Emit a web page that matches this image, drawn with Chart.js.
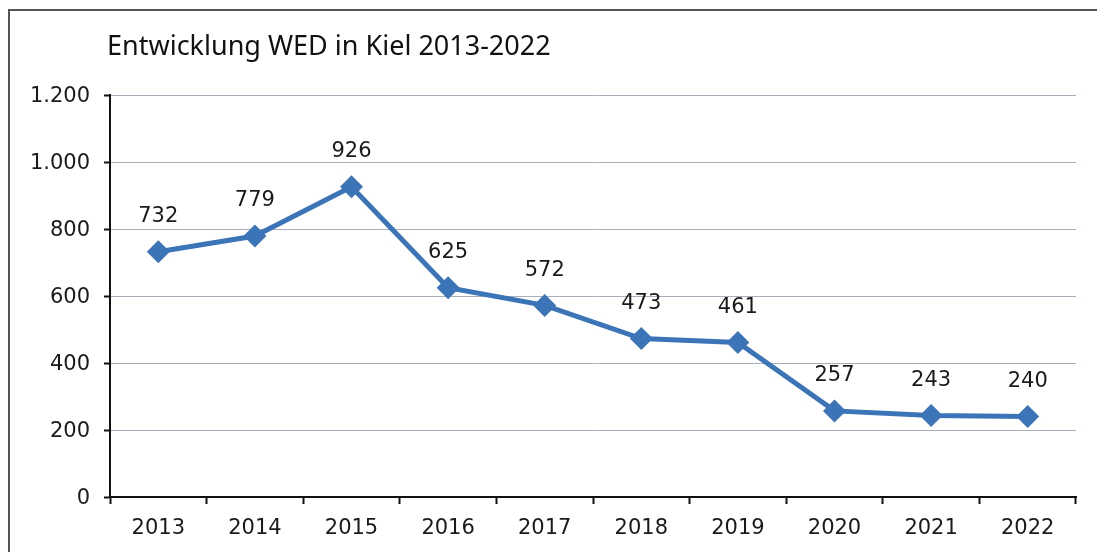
<!DOCTYPE html>
<html>
<head>
<meta charset="utf-8">
<script src="https://cdn.jsdelivr.net/npm/chart.js@4"></script>
<style>
  html, body { margin: 0; padding: 0; background: #fff; overflow: hidden; }
  #wrap { position: relative; width: 1097px; height: 552px; overflow: hidden; }
  #frame { position: absolute; left: 8px; top: 9px; width: 1200px; height: 600px; border: 2px solid #555; box-sizing: border-box; }
  canvas { position: absolute; left: 0; top: 0; }
</style>
</head>
<body>
<div id="wrap">
  <div id="frame"></div>
  <canvas id="wedChart" width="1097" height="552"></canvas>
</div>
<script>
// Daten
var years = ['2013', '2014', '2015', '2016', '2017', '2018', '2019', '2020', '2021', '2022'];
var wedValues = [732, 779, 926, 625, 572, 473, 461, 257, 243, 240];
var yTickLabels = ['0', '200', '400', '600', '800', '1.000', '1.200'];
var chartTitle = 'Entwicklung WED in Kiel 2013-2022';

var titleFont = '"Noto Sans", Lato, sans-serif';
var numFont = '"DejaVu Sans", "Noto Sans", sans-serif';

// Titel oben links
var titlePlugin = {
    id: 'titelText',
    afterDraw: function(chart) {
        var c = chart.ctx;
        c.save();
        c.font = '27px ' + titleFont;
        c.fillStyle = '#111';
        c.textBaseline = 'middle';
        c.textAlign = 'left';
        c.fillText(chartTitle, 107, 47);
        c.restore();
    }
};

// Werte ueber den Punkten
var labelPlugin = {
    id: 'wertLabels',
    afterDatasetsDraw: function(chart) {
        var c = chart.ctx;
        var meta = chart.getDatasetMeta(0);
        c.save();
        c.font = '21px ' + numFont;
        c.fillStyle = '#1a1a1a';
        c.textAlign = 'center';
        c.textBaseline = 'middle';
        meta.data.forEach(function(pt, i) {
            c.fillText(String(wedValues[i]), pt.x, pt.y - 35);
        });
        c.restore();
    }
};

var ctx = document.getElementById('wedChart').getContext('2d');
var wedChart = new Chart(ctx, {
    type: 'line',
    data: {
        labels: years,
        datasets: [{
            label: 'WED',
            data: wedValues,
            borderColor: '#3b74b7',
            backgroundColor: '#3b74b7',
            borderWidth: 5,
            pointStyle: 'rectRot',
            pointRadius: 11.5,
            pointHoverRadius: 11.5,
            pointBorderWidth: 0,
            tension: 0
        }]
    },
    options: {
        responsive: false,
        animation: false,
        layout: { padding: { top: 95, right: 21, bottom: 0, left: 0 } },
        plugins: {
            legend: { display: false },
            tooltip: { enabled: false }
        },
        scales: {
            x: {
                offset: true,
                grid: {
                    offset: true,
                    drawOnChartArea: false,
                    drawTicks: true,
                    tickLength: 7,
                    tickColor: '#111',
                    tickWidth: 2
                },
                border: { color: '#111', width: 2 },
                ticks: {
                    color: '#1a1a1a',
                    padding: 12,
                    font: { family: numFont, size: 21 }
                },
                afterFit: function(scale) { scale.height = 55; }
            },
            y: {
                min: 0,
                max: 1200,
                ticks: {
                    stepSize: 200,
                    color: '#1a1a1a',
                    padding: 14,
                    labelOffset: 2,
                    font: { family: numFont, size: 21 },
                    callback: function(v) { return yTickLabels[v / 200]; }
                },
                grid: {
                    color: '#a8aebb',
                    lineWidth: 1,
                    tickColor: '#111',
                    tickWidth: 2,
                    tickLength: 6
                },
                border: { color: '#111', width: 2 },
                afterFit: function(scale) { scale.width = 110; }
            }
        }
    },
    plugins: [titlePlugin, labelPlugin]
});
</script>
</body>
</html>
